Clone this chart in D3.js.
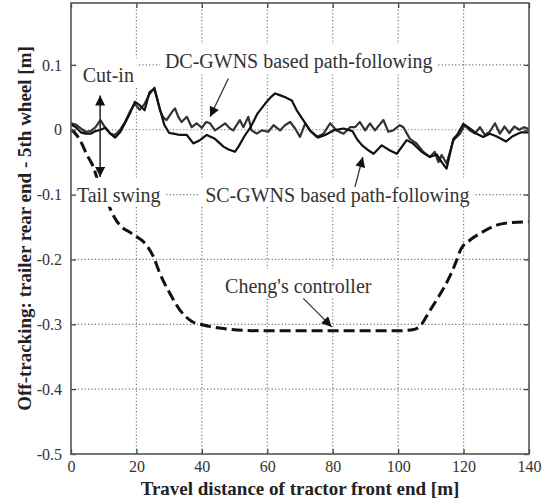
<!DOCTYPE html>
<html>
<head>
<meta charset="utf-8">
<script src="https://cdn.jsdelivr.net/npm/d3@7"></script>
<style>
  body { margin: 0; background: #fff; }
  svg { display: block; font-family: "Liberation Serif", "Times New Roman", serif; }
</style>
</head>
<body>
<div id="chart"></div>
<script>
// tick values
var xTicks = [0, 20, 40, 60, 80, 100, 120, 140];
var yTicks = [0.1, 0, -0.1, -0.2, -0.3, -0.4, -0.5];

// DC-GWNS based path-following (jagged curve)
var dcDist = [0, 1.5, 3, 4.5, 6, 7.5, 9, 10.5, 12, 13.5, 15, 16.5, 18, 19.5, 21, 22.5, 24, 25.5, 27.2, 28.2, 29.2,
  30.8, 31.8, 32.8, 33.8, 35.4, 36.9, 38.4, 40, 41.3, 42.5, 44, 45.5, 47.1, 48.6, 49.6, 51.6, 52.7, 54.2, 55.2,
  56.8, 58.3, 60.3, 61.9, 63.9, 65.4, 67, 68.5, 70, 71.6, 73.1, 75.1, 77.2, 79.2, 81.2, 83.3, 85.3, 86.8, 88.3,
  89.9, 91.4, 92.9, 95.5, 97, 98.5, 100.5, 101.6, 103.6, 105.6, 107.7, 109.7, 111.2, 112.3, 113.3, 114.8, 116.9,
  118.9, 120.4, 121.9, 123.5, 125, 126.5, 128, 129.6, 131.1, 132.5, 134, 135.5, 137, 138.5, 140];
var dcOffset = [0.010, 0.008, 0.002, -0.003, -0.002, 0.004, 0.015, 0.003, -0.006, -0.008, 0.000, 0.012, 0.028, 0.040, 0.031, 0.040, 0.055, 0.065, 0.030, 0.019, 0.015,
  0.027, 0.033, 0.020, 0.012, 0.020, 0.004, 0.010, 0.003, 0.012, 0.010, -0.001, 0.004, 0.010, 0.002, -0.001, 0.015, 0.004, 0.020, -0.001,
  -0.006, -0.001, -0.003, 0.007, -0.001, 0.007, 0.012, 0.002, -0.011, 0.010, -0.001, -0.011, -0.006, 0.010, -0.001, -0.006, 0.004, 0.004, 0.012,
  -0.001, 0.010, -0.001, 0.015, -0.003, -0.001, 0.007, 0.004, -0.014, -0.021, -0.034, -0.042, -0.034, -0.050, -0.039, -0.052, -0.016,
  -0.006, 0.007, -0.001, -0.006, 0.004, -0.008, -0.003, 0.010, -0.006, 0.005, -0.005, 0.005, 0.000, 0.004, 0.001];

// SC-GWNS based path-following (smoother black curve)
var scDist = [0, 1.5, 3, 4.5, 6, 7.5, 9, 10.5, 12, 13.5, 15, 16.5, 18, 19.5, 21, 22.5, 24, 25.5, 27, 28.5, 30, 31.3,
  33.3, 35.4, 37.4, 39.4, 41.5, 44, 46.6, 48, 50.1, 51.2, 53, 55, 57, 59.3, 61, 62.4, 64, 65.5, 67.5, 69, 71, 73,
  75.6, 77.7, 80.2, 83.3, 86, 87.5, 89, 91, 92.5, 95, 97.5, 99.6, 102.6, 104.5, 107.2, 109.7, 111.8, 113.3, 114.8,
  116.9, 118, 119.9, 121.9, 124, 126, 128, 130, 133, 135, 137.6, 140];
var scOffset = [0.008, 0.004, -0.004, -0.006, -0.006, -0.002, 0.000, 0.003, -0.006, -0.012, -0.004, 0.010, 0.025, 0.043, 0.038, 0.030, 0.058, 0.063, 0.035, 0.008, -0.005, -0.006,
  -0.008, -0.008, -0.021, -0.016, -0.008, -0.014, -0.026, -0.030, -0.034, -0.026, -0.010, 0.005, 0.025, 0.040, 0.050, 0.056, 0.053, 0.050, 0.045, 0.030, 0.015, -0.001,
  -0.012, -0.008, -0.001, 0.002, -0.002, -0.015, -0.024, -0.032, -0.037, -0.024, -0.032, -0.037, -0.016, -0.021, -0.034, -0.042, -0.038, -0.050, -0.060,
  -0.014, -0.008, 0.009, 0.002, -0.006, -0.011, -0.006, -0.010, -0.018, -0.010, -0.004, -0.004];

// Cheng's controller (dashed)
var chengDist = [0, 1, 2.75, 5, 6.8, 8, 10, 11.9, 13.5, 15.5, 18, 20.1, 23.1, 25.2, 27.2, 30.3, 33.3, 37.1, 40.4,
  45.9, 52.4, 60, 80, 100, 104.8, 107, 109.2, 112.4, 115.7, 117.9, 119, 122, 125, 130.1, 135, 140];
var chengOffset = [0, -0.004, -0.016, -0.040, -0.057, -0.075, -0.098, -0.121, -0.137, -0.150, -0.158, -0.165, -0.178, -0.196, -0.222, -0.253, -0.278, -0.296, -0.301,
  -0.306, -0.309, -0.310, -0.310, -0.310, -0.308, -0.301, -0.283, -0.257, -0.227, -0.201, -0.186, -0.170, -0.160, -0.147, -0.143, -0.142];

var width = 560, height = 502;
var margin = { top: 3, left: 71, right: 31, bottom: 48 };
var w = width - margin.left - margin.right;
var h = height - margin.top - margin.bottom;

var svg = d3.select('#chart').append('svg')
  .attr('width', width)
  .attr('height', height);

svg.append('rect').attr('width', width).attr('height', height).attr('fill', '#fff');

var defs = svg.append('defs');
defs.append('marker')
  .attr('id', 'head')
  .attr('viewBox', '0 0 10 10')
  .attr('refX', 10).attr('refY', 5)
  .attr('markerUnits', 'userSpaceOnUse')
  .attr('markerWidth', 11).attr('markerHeight', 10)
  .attr('orient', 'auto-start-reverse')
  .append('path').attr('d', 'M0,0L10,5L0,10z').attr('fill', '#111');

var g = svg.append('g').attr('transform', `translate(${margin.left}, ${margin.top})`);

var x = d3.scaleLinear().domain([0, 140]).range([0, w]);
var y = d3.scaleLinear().domain([-0.5, 0.1955]).range([h, 0]);

// grid
g.append('g').selectAll('line.gx').data(xTicks.slice(1, -1)).enter().append('line')
  .attr('x1', d => x(d)).attr('x2', d => x(d))
  .attr('y1', 0).attr('y2', h)
  .attr('stroke', '#777').attr('stroke-width', 1.2).attr('stroke-dasharray', '1.2,2.2');
g.append('g').selectAll('line.gy').data(yTicks.slice(0, -1)).enter().append('line')
  .attr('y1', d => y(d)).attr('y2', d => y(d))
  .attr('x1', 0).attr('x2', w)
  .attr('stroke', '#777').attr('stroke-width', 1.2).attr('stroke-dasharray', '1.2,2.2');

// curves
var line = d3.line().x(d => x(d[0])).y(d => y(d[1]));
var smooth = d3.line().x(d => x(d[0])).y(d => y(d[1])).curve(d3.curveMonotoneX);

g.append('path')
  .datum(chengDist.map((d, i) => [d, chengOffset[i]]))
  .attr('d', smooth).attr('fill', 'none')
  .attr('stroke', '#111').attr('stroke-width', 3).attr('stroke-dasharray', '11,5');

g.append('path')
  .datum(dcDist.map((d, i) => [d, dcOffset[i]]))
  .attr('d', line).attr('fill', 'none')
  .attr('stroke', '#333').attr('stroke-width', 2.2).attr('stroke-linejoin', 'round');

g.append('path')
  .datum(scDist.map((d, i) => [d, scOffset[i]]))
  .attr('d', line).attr('fill', 'none')
  .attr('stroke', '#111').attr('stroke-width', 2.2).attr('stroke-linejoin', 'round');

// annotation text with white boxes
var notes = [
  { text: 'Cut-in', x: 3.6, y: 0.073 },
  { text: 'Tail swing', x: 1.8, y: -0.111 },
  { text: 'DC-GWNS based path-following', x: 28.7, y: 0.095 },
  { text: 'SC-GWNS based path-following', x: 41, y: -0.111 },
  { text: "Cheng's controller", x: 47.1, y: -0.251 }
];
notes.forEach(n => {
  var box = g.append('rect').attr('fill', '#fff');
  var t = g.append('text')
    .attr('x', x(n.x)).attr('y', y(n.y))
    .attr('font-size', '20px').attr('fill', '#333')
    .text(n.text);
  var b = t.node().getBBox();
  box.attr('x', b.x - 5).attr('y', b.y - 6)
    .attr('width', b.width + 9).attr('height', b.height + 6);
});

// arrows
var arrows = [
  { x1: 48.1, y1: 0.079, x2: 42.5, y2: 0.020 },
  { x1: 86.8, y1: -0.088, x2: 89.2, y2: -0.042 },
  { x1: 71.0, y1: -0.260, x2: 79.7, y2: -0.304 }
];
arrows.forEach(a => {
  g.append('line')
    .attr('x1', x(a.x1)).attr('y1', y(a.y1))
    .attr('x2', x(a.x2)).attr('y2', y(a.y2))
    .attr('stroke', '#333').attr('stroke-width', 1.3)
    .attr('marker-end', 'url(#head)');
});
// cut-in / tail swing double arrow
g.append('line')
  .attr('x1', x(8.9)).attr('y1', y(0.053))
  .attr('x2', x(8.9)).attr('y2', y(-0.073))
  .attr('stroke', '#222').attr('stroke-width', 1.5)
  .attr('marker-start', 'url(#head)').attr('marker-end', 'url(#head)');

// axes
var fmt = d => d === 0 ? '0' : d.toFixed(1);

var xAxis = g.append('g').attr('transform', `translate(0, ${h})`)
  .call(d3.axisBottom(x).tickValues(xTicks).tickSize(-5).tickPadding(7).tickFormat(d => d));
var xTop = g.append('g')
  .call(d3.axisTop(x).tickValues(xTicks).tickSize(-5).tickFormat(''));
var yAxis = g.append('g')
  .call(d3.axisLeft(y).tickValues(yTicks).tickSize(-5).tickPadding(9).tickFormat(fmt));
var yRight = g.append('g').attr('transform', `translate(${w}, 0)`)
  .call(d3.axisRight(y).tickValues(yTicks).tickSize(-5).tickFormat(''));

[xAxis, xTop, yAxis, yRight].forEach(a => {
  a.select('.domain').remove();
  a.selectAll('.tick line').attr('stroke', '#444').attr('stroke-width', 1.3);
  a.selectAll('.tick text')
    .attr('font-family', '"Liberation Serif", serif')
    .attr('font-size', '16px').attr('fill', '#333');
});

g.append('rect')
  .attr('width', w).attr('height', h)
  .attr('fill', 'none').attr('stroke', '#555').attr('stroke-width', 1.6);

// axis titles
g.append('text')
  .attr('x', w / 2).attr('y', h + 41)
  .attr('text-anchor', 'middle')
  .attr('font-size', '19px').attr('font-weight', 'bold').attr('fill', '#222')
  .text('Travel distance of tractor front end [m]');

g.append('text')
  .attr('transform', 'rotate(-90)')
  .attr('x', -h / 2).attr('y', -40)
  .attr('text-anchor', 'middle')
  .attr('font-size', '19px').attr('font-weight', 'bold').attr('fill', '#222')
  .text('Off-tracking: trailer rear end - 5th wheel [m]');
</script>
</body>
</html>
